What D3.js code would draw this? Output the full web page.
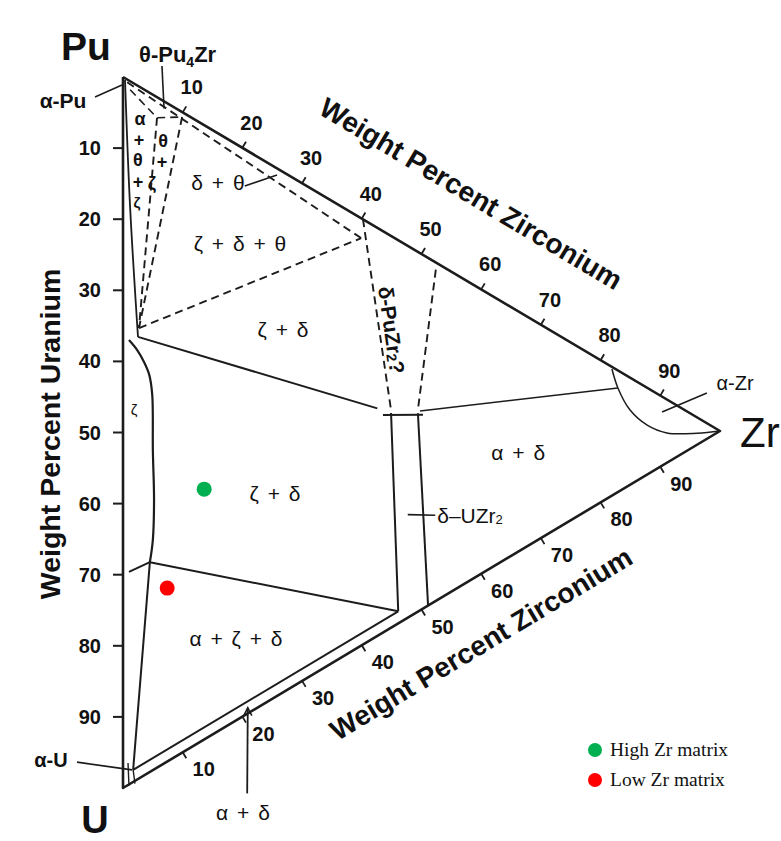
<!DOCTYPE html>
<html>
<head>
<meta charset="utf-8">
<script src="https://cdn.jsdelivr.net/npm/d3@7"></script>
<style>
  html, body { margin: 0; padding: 0; background: #fff; }
  svg { display: block; }
  text { font-family: "Liberation Sans", Arial, sans-serif; fill: #111; }
</style>
</head>
<body>
<svg id="chart" width="781" height="841"></svg>
<script>
// Pu-U-Zr isothermal section. Every composition is [U wt%, Zr wt%]; Pu is the balance.

const uTicks = [10, 20, 30, 40, 50, 60, 70, 80, 90];
const zrTicks = [10, 20, 30, 40, 50, 60, 70, 80, 90];

const outline = [[0, 0], [100, 0], [0, 100], [0, 0]];

// solid phase boundaries
const zetaUpper = [[0.25, 0.34], [17.4, 1.17], [35.3, 2.51]];
const zetaLower = [[36.5, 1.0], [37.2, 2.35], [38.3, 3.5], [39.7, 4.4], [42.3, 4.9], [50.0, 5.0], [56.9, 5.2], [62.6, 5.0], [66.0, 4.5]];
const zetaDeltaTie = [[35.3, 2.51], [25.4, 42.6]];
const azdTop = [[66.0, 4.5], [52.2, 46.1]];
const azdLeft = [[66.0, 4.5], [96.6, 1.7]];
const azdStub = [[66.0, 4.5], [69.1, 1.0]];
const alphaDeltaInner = [[96.6, 1.7], [52.2, 46.1]];
const uzr2Left = [[24.9, 44.9], [52.2, 46.1]];
const uzr2Right = [[22.7, 49.4], [48.9, 51.1]];
const uzr2Cap = [[25.85, 43.55], [22.5, 50.25]];
const alphaDeltaTie = [[22.2, 49.75], [2.46, 82.9]];
const alphaZrBoundary = [[0.3, 81.9], [2.46, 82.9], [4.54, 84.9], [5.25, 87.8], [4.7, 91.1], [2.2, 96.2], [0, 100]];
const alphaUCorner = [[[96.06, 0.84], [99.2, 1.0]], [[96.6, 1.7], [98.4, 2.0]]];

// dashed (uncertain) boundaries
const deltaThetaEdge = [[0.4, 0.7], [2.8, 39.9]];
const thetaZeta1 = [[2.9, 5.7], [33.97, 2.68]];
const thetaZeta2 = [[0.7, 9.9], [33.97, 2.68]];
const alphaTheta = [[1.2, 1.2], [2.9, 5.7], [0.7, 9.9]];
const zdtLower = [[33.97, 2.68], [2.8, 39.9]];
const puzr2Left = [[0, 40.2], [24.5, 44.9]];
const puzr2Right = [[1.0, 52.4], [22.2, 49.4]];

// measured alloy matrices
const sampleNames = ["High Zr matrix", "Low Zr matrix"];
const sampleU = [51.2, 68.2];
const sampleZr = [13.6, 7.4];
const sampleColors = ["#00b050", "#ff0000"];

// region names placed at compositions
const regionText = ["ζ + δ", "ζ + δ", "ζ + δ + θ", "δ + θ", "α + ζ + δ", "α + δ"];
const regionAt = [[45.97, 25.46], [22.24, 26.8], [13.6, 19.6], [6.99, 15.9], [69.5, 18.93], [19.8, 66.2]];

// glyphs stacked inside the narrow Pu-rich fields
const smallGlyphs = ["α", "+", "θ", "θ", "+", "+", "ζ", "ζ"];
const smallAt = [[4.49, 2.85], [7.52, 2.68], [5.67, 6.7], [10.42, 2.51], [8.7, 6.53], [13.5, 2.51], [12.5, 4.86], [16.55, 2.35]];

// label leaders
const leaders = [
  [[5.15, -4.69], [1.2, -0.17]],    // alpha-Pu
  [[-4.8, 6.53], [1.0, 6.87]],      // theta-Pu4Zr
  [[5.16, 20.4], [0.94, 25.8]],     // delta + theta
  [[2.16, 90.3], [-4.26, 97.8]],    // alpha-Zr
  [[37.8, 47.7], [35.6, 52.3]],     // delta-UZr2
  [[100.2, -7.7], [96.7, 1.5]]      // alpha-U
];
const arrowLeader = [[90.4, 20.8], [78.3, 20.9]]; // alpha + delta wedge

// ---------------------------------------------------------------
const svg = d3.select("#chart");
const ink = "#1c1c1c";

const zrX = d3.scaleLinear().domain([0, 100]).range([123, 720]);
const zrY = d3.scaleLinear().domain([0, 100]).range([0, 354]);
const uY = d3.scaleLinear().domain([0, 100]).range([77, 788]);
const proj = ([u, z]) => [zrX(z), uY(u) + zrY(z)];

const straight = d3.line().x(d => proj(d)[0]).y(d => proj(d)[1]);
const smooth = d3.line().curve(d3.curveCatmullRom.alpha(0.5)).x(d => proj(d)[0]).y(d => proj(d)[1]);

const g = svg.append("g");

function path(pts, opts = {}) {
  g.append("path")
    .attr("d", (opts.smooth ? smooth : straight)(pts))
    .attr("fill", "none")
    .attr("stroke", ink)
    .attr("stroke-width", opts.w || 2)
    .attr("stroke-linejoin", "round")
    .attr("stroke-dasharray", opts.dash ? "8,5" : null);
}

// dashed boundaries
[deltaThetaEdge, thetaZeta1, thetaZeta2, zdtLower, puzr2Left, puzr2Right].forEach(p => path(p, { dash: true, w: 1.9 }));
path(alphaTheta, { dash: true, w: 1.6 });

// solid boundaries
path(zetaUpper, { smooth: true, w: 1.8 });
path(zetaLower, { smooth: true, w: 2.2 });
[zetaDeltaTie, azdTop, azdLeft, azdStub, alphaDeltaInner, uzr2Left, uzr2Right, uzr2Cap].forEach(p => path(p, { w: 2 }));
path(alphaDeltaTie, { w: 1.6 });
path(alphaZrBoundary, { smooth: true, w: 1.5 });
alphaUCorner.forEach(p => path(p, { w: 1.4 }));

// triangle frame
path(outline, { w: 2.6 });

// leaders
leaders.forEach(p => path(p, { w: 1.6 }));
path(arrowLeader, { w: 1.8 });
{
  const tip = proj(arrowLeader[1]);
  g.append("path")
    .attr("d", `M${tip[0] - 4},${tip[1] + 8}L${tip[0]},${tip[1]}L${tip[0] + 4},${tip[1] + 8}`)
    .attr("fill", "none").attr("stroke", ink).attr("stroke-width", 1.6);
}

// ---------- axes ----------
const axisFont = 20;
// left edge: weight percent uranium
uTicks.forEach(t => {
  const [x, y] = proj([t, 0]);
  g.append("line").attr("x1", x - 10).attr("x2", x).attr("y1", y).attr("y2", y)
    .attr("stroke", ink).attr("stroke-width", 2);
  g.append("text").attr("x", x - 22).attr("y", y).attr("text-anchor", "end")
    .attr("dominant-baseline", "central").attr("font-size", axisFont).attr("font-weight", "bold")
    .text(t);
});
// top edge: Pu-Zr
const topN = [0.51, -0.86];
zrTicks.forEach(t => {
  const [x, y] = proj([0, t]);
  g.append("line").attr("x1", x).attr("y1", y).attr("x2", x + topN[0] * 7).attr("y2", y + topN[1] * 7)
    .attr("stroke", ink).attr("stroke-width", 1.8);
  g.append("text").attr("x", x + 9).attr("y", y - 25).attr("text-anchor", "middle")
    .attr("dominant-baseline", "central").attr("font-size", axisFont).attr("font-weight", "bold")
    .text(t);
});
// bottom edge: U-Zr
const botN = [0.513, 0.858];
zrTicks.forEach(t => {
  const [x, y] = proj([100 - t, t]);
  g.append("line").attr("x1", x).attr("y1", y).attr("x2", x + botN[0] * 7).attr("y2", y + botN[1] * 7)
    .attr("stroke", ink).attr("stroke-width", 1.8);
  g.append("text").attr("x", x + 21).attr("y", y + 17).attr("text-anchor", "middle")
    .attr("dominant-baseline", "central").attr("font-size", axisFont).attr("font-weight", "bold")
    .text(t);
});

// axis titles
g.append("text").attr("transform", "translate(60,434) rotate(-90)")
  .attr("text-anchor", "middle").attr("font-size", 28.5).attr("font-weight", "bold")
  .text("Weight Percent Uranium");
g.append("text").attr("transform", "translate(466,202) rotate(30.8)")
  .attr("text-anchor", "middle").attr("font-size", 28).attr("font-weight", "bold")
  .text("Weight Percent Zirconium");
g.append("text").attr("transform", "translate(486,652) rotate(-31)")
  .attr("text-anchor", "middle").attr("font-size", 28).attr("font-weight", "bold")
  .text("Weight Percent Zirconium");

// vertex names
g.append("text").attr("x", 86).attr("y", 60).attr("text-anchor", "middle")
  .attr("font-size", 39).attr("font-weight", "bold").text("Pu");
g.append("text").attr("x", 95).attr("y", 833).attr("text-anchor", "middle")
  .attr("font-size", 38).attr("font-weight", "bold").text("U");
g.append("text").attr("x", 740).attr("y", 447)
  .attr("font-size", 42).text("Zr");

// phase labels outside the field
g.append("text").attr("x", 63).attr("y", 100).attr("text-anchor", "middle")
  .attr("dominant-baseline", "central").attr("font-size", 21).attr("font-weight", "bold").text("α-Pu");
{
  const t = g.append("text").attr("x", 139).attr("y", 62).attr("font-size", 22).attr("font-weight", "bold");
  t.append("tspan").text("θ-Pu");
  t.append("tspan").attr("dy", 5).attr("font-size", 14).text("4");
  t.append("tspan").attr("dy", -5).text("Zr");
}
g.append("text").attr("x", 51).attr("y", 760).attr("text-anchor", "middle")
  .attr("dominant-baseline", "central").attr("font-size", 20).attr("font-weight", "bold").text("α-U");
g.append("text").attr("x", 735).attr("y", 383).attr("text-anchor", "middle")
  .attr("dominant-baseline", "central").attr("font-size", 20).text("α-Zr");
{
  const [x, y] = proj(leaders[4][1]);
  const t = g.append("text").attr("x", x + 2).attr("y", y).attr("dominant-baseline", "central").attr("font-size", 21);
  t.append("tspan").text("δ–UZr");
  t.append("tspan").attr("font-size", 13).attr("dy", 4).text("2");
}
g.append("text").attr("x", 243).attr("y", 812).attr("text-anchor", "middle")
  .attr("dominant-baseline", "central").attr("font-size", 21).attr("word-spacing", 3).text("α + δ");

// region labels
regionText.forEach((s, i) => {
  const [x, y] = proj(regionAt[i]);
  g.append("text").attr("x", x).attr("y", y).attr("text-anchor", "middle")
    .attr("dominant-baseline", "central").attr("font-size", 21).attr("word-spacing", 3).text(s);
});

// narrow Pu-rich fields
smallGlyphs.forEach((s, i) => {
  const [x, y] = proj(smallAt[i]);
  g.append("text").attr("x", x).attr("y", y).attr("text-anchor", "middle")
    .attr("dominant-baseline", "central").attr("font-size", i === 7 ? 15 : 18).attr("font-weight", "bold").text(s);
});
{
  const [x, y] = proj([45.9, 1.84]);
  g.append("text").attr("x", x).attr("y", y).attr("text-anchor", "middle")
    .attr("dominant-baseline", "central").attr("font-size", 15).text("ζ");
}
{
  const [x, y] = proj([13.15, 45.06]);
  const t = g.append("text").attr("transform", `translate(${x},${y}) rotate(82)`)
    .attr("text-anchor", "middle").attr("dominant-baseline", "central")
    .attr("font-size", 21).attr("font-weight", "bold");
  t.append("tspan").text("δ-PuZr");
  t.append("tspan").attr("font-size", 14).attr("dy", 4).text("2");
  t.append("tspan").attr("dy", -4).text("?");
}

// sample points
sampleNames.forEach((n, i) => {
  const [x, y] = proj([sampleU[i], sampleZr[i]]);
  svg.append("circle").attr("cx", x).attr("cy", y).attr("r", 7.5).attr("fill", sampleColors[i]);
});

// legend
const legend = svg.append("g").attr("transform", "translate(595,750)");
sampleNames.forEach((n, i) => {
  legend.append("circle").attr("cx", 0).attr("cy", i * 30).attr("r", 7).attr("fill", sampleColors[i]);
  legend.append("text").attr("x", 15).attr("y", i * 30 + 6)
    .style("font-family", '"Liberation Serif", "Times New Roman", serif')
    .attr("font-size", 19.5).text(n);
});
</script>
</body>
</html>
